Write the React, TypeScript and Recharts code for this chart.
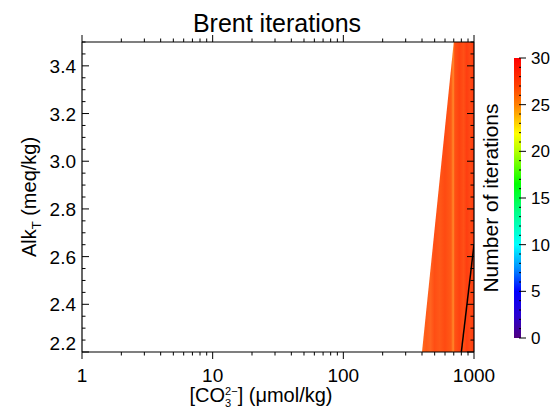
import React from 'react';
import { ComposedChart, Area, Line, XAxis, YAxis, BarChart, Bar } from 'recharts';

const FONT = '"Liberation Sans", Arial, Helvetica, sans-serif';

// axis ticks
const xTicks = [1, 2, 3, 4, 5, 6, 7, 8, 9, 10, 20, 30, 40, 50, 60, 70, 80, 90, 100, 200, 300, 400, 500, 600, 700, 800, 900, 1000];
const xMajor = [1, 10, 100, 1000];
const yTicks = [2.2, 2.25, 2.3, 2.35, 2.4, 2.45, 2.5, 2.55, 2.6, 2.65, 2.7, 2.75, 2.8, 2.85, 2.9, 2.95, 3.0, 3.05, 3.1, 3.15, 3.2, 3.25, 3.3, 3.35, 3.4, 3.45, 3.5];
const yMajor = [2.2, 2.4, 2.6, 2.8, 3.0, 3.2, 3.4];
const cbarTicks = [0, 1, 2, 3, 4, 5, 6, 7, 8, 9, 10, 11, 12, 13, 14, 15, 16, 17, 18, 19, 20, 21, 22, 23, 24, 25, 26, 27, 28, 29, 30];
const cbarMajor = [0, 5, 10, 15, 20, 25, 30];

// edge of the shaded (converged) region: [CO3] vs Alk
const regionCO3 = [400, 700, 1000];
const regionAlk = [2.2, 3.5, 3.5];
// black contour line
const lineCO3 = [800, 1000];
const lineAlk = [2.2, 2.65];
// colour bar range
const maxIter = [30];

const regionData = regionCO3.map((x, i) => ({ co3: x, alk: regionAlk[i] }));
const lineData = lineCO3.map((x, i) => ({ co3: x, alk: lineAlk[i] }));
const cbarData = maxIter.map((v) => ({ name: 'iter', v }));

const stripes: [number, string][] = [
  [0, '#ff6a1c'], [0.08, '#ff5a18'], [0.16, '#ff6420'], [0.24, '#ff4e14'],
  [0.34, '#ff5818'], [0.44, '#ff4a12'], [0.56, '#ff5a16'], [0.6, '#ff8a2a'],
  [0.63, '#ff5214'], [0.72, '#ff4210'], [0.8, '#ff5016'], [0.86, '#ff3e10'],
  [0.93, '#ff4a14'], [1, '#ff3a10'],
];

const rainbow: [number, string][] = [
  [0, '#ff0000'], [0.1, '#ff4000'], [0.167, '#ff8000'], [0.27, '#ffff00'],
  [0.333, '#b4ff00'], [0.45, '#00ff00'], [0.55, '#00ff88'], [0.667, '#00ffff'],
  [0.75, '#0090ff'], [0.833, '#0000ff'], [0.92, '#2a00d0'], [1, '#500080'],
];

const XTickBottom = (props: any) => {
  const { x, y, payload } = props;
  const major = xMajor.includes(payload.value);
  return (
    <g>
      <line x1={x} x2={x} y1={y} y2={y + (major ? 7 : 3.5)} stroke="#000" />
      {major && (
        <text x={x} y={y + 30} textAnchor="middle" fontSize={19} fill="#000" fontFamily={FONT}>
          {payload.value}
        </text>
      )}
    </g>
  );
};

const XTickTop = (props: any) => {
  const { x, y, payload } = props;
  const major = xMajor.includes(payload.value);
  return <line x1={x} x2={x} y1={y} y2={y - (major ? 7 : 3.5)} stroke="#000" />;
};

const YTickLeft = (props: any) => {
  const { x, y, payload } = props;
  const major = yMajor.includes(payload.value);
  const shift = payload.value === yTicks[0] ? -9 : 0;
  return (
    <g>
      <line x1={x} x2={x + (major ? 7 : 3.5)} y1={y} y2={y} stroke="#000" />
      {major && (
        <text x={x - 6} y={y + 7 + shift} textAnchor="end" fontSize={19} fill="#000" fontFamily={FONT}>
          {payload.value.toFixed(1)}
        </text>
      )}
    </g>
  );
};

const YTickRight = (props: any) => {
  const { x, y, payload } = props;
  const major = yMajor.includes(payload.value);
  return <line x1={x} x2={x - (major ? 7 : 3.5)} y1={y} y2={y} stroke="#000" />;
};

const CbarTick = (props: any) => {
  const { x, y, payload } = props;
  const major = cbarMajor.includes(payload.value);
  return (
    <g>
      <line x1={x - 2} x2={x + (major ? 5 : 0)} y1={y} y2={y} stroke="#000" />
      {major && (
        <text x={x + 10} y={y + 6} textAnchor="start" fontSize={17} fill="#000" fontFamily={FONT}>
          {payload.value}
        </text>
      )}
    </g>
  );
};

const App: React.FC = () => {
  return (
    <div style={{ position: 'absolute', left: 0, top: 0, width: 552, height: 411, background: '#fff', fontFamily: FONT }}>
      <div style={{ position: 'absolute', left: 0, top: 0 }}>
        <ComposedChart width={552} height={411} margin={{ top: 32, right: 68, bottom: 29, left: 42 }}>
          <defs>
            <linearGradient id="stripes" x1="0" y1="0" x2="1" y2="0">
              {stripes.map(([o, c]) => (
                <stop key={o} offset={o} stopColor={c} />
              ))}
            </linearGradient>
          </defs>
          <XAxis
            xAxisId="b"
            dataKey="co3"
            type="number"
            scale="log"
            domain={[1, 1000]}
            ticks={xTicks}
            interval={0}
            height={30}
            tickSize={0}
            tickMargin={0}
            tickLine={false}
            allowDataOverflow
            axisLine={{ stroke: '#000', strokeWidth: 1.2 }}
            tick={XTickBottom}
            label={{
              content: (p: any) => {
                const vb = p.viewBox;
                return (
                  <text x={vb.x + vb.width / 2 - 17} y={vb.y + 50} textAnchor="middle" fontSize={20} fill="#000" fontFamily={FONT}>
                    [CO
                    <tspan dy={-7} fontSize={11}>2−</tspan>
                    <tspan dx={-12.5} dy={12} fontSize={11}>3</tspan>
                    <tspan dx={6.4} dy={-5} fontSize={20}>] (μmol/kg)</tspan>
                  </text>
                );
              },
            }}
          />
          <XAxis
            xAxisId="t"
            orientation="top"
            dataKey="co3"
            type="number"
            scale="log"
            domain={[1, 1000]}
            ticks={xTicks}
            interval={0}
            height={10}
            tickSize={0}
            tickMargin={0}
            tickLine={false}
            allowDataOverflow
            axisLine={{ stroke: '#000', strokeWidth: 1.2 }}
            tick={XTickTop}
            label={{
              content: (p: any) => {
                const vb = p.viewBox;
                return (
                  <text x={vb.x + vb.width / 2 - 1} y={vb.y + vb.height - 10} textAnchor="middle" fontSize={25} fill="#000" fontFamily={FONT}>
                    Brent iterations
                  </text>
                );
              },
            }}
          />
          <YAxis
            yAxisId="l"
            type="number"
            domain={[2.2, 3.5]}
            ticks={yTicks}
            interval={0}
            width={40}
            tickSize={0}
            tickMargin={0}
            tickLine={false}
            allowDataOverflow
            axisLine={{ stroke: '#000', strokeWidth: 1.2 }}
            tick={YTickLeft}
            label={{
              content: (p: any) => {
                const vb = p.viewBox;
                const cy = vb.y + vb.height / 2;
                return (
                  <text transform={`translate(${vb.x + vb.width - 46}, ${cy}) rotate(-90)`} x={0} y={0} textAnchor="middle" fontSize={20} fill="#000" fontFamily={FONT}>
                    Alk
                    <tspan dy={5} fontSize={13}>T</tspan>
                    <tspan dy={-5} fontSize={20}> (meq/kg)</tspan>
                  </text>
                );
              },
            }}
          />
          <YAxis
            yAxisId="r"
            orientation="right"
            type="number"
            domain={[2.2, 3.5]}
            ticks={yTicks}
            interval={0}
            width={10}
            tickSize={0}
            tickMargin={0}
            tickLine={false}
            allowDataOverflow
            axisLine={{ stroke: '#000', strokeWidth: 1.2 }}
            tick={YTickRight}
          />
          <Area
            xAxisId="b"
            yAxisId="l"
            data={regionData}
            dataKey="alk"
            type="linear"
            baseValue={2.2}
            stroke="none"
            fill="url(#stripes)"
            fillOpacity={1}
            isAnimationActive={false}
          />
          <Line
            xAxisId="b"
            yAxisId="l"
            data={lineData}
            dataKey="alk"
            type="linear"
            stroke="#000"
            strokeWidth={1.5}
            dot={false}
            isAnimationActive={false}
          />
        </ComposedChart>
      </div>
      <div style={{ position: 'absolute', left: 470, top: 0 }}>
        <BarChart width={82} height={411} data={cbarData} margin={{ top: 58, right: 1, bottom: 73, left: 44 }} barCategoryGap={0}>
          <defs>
            <linearGradient id="rainbow" x1="0" y1="0" x2="0" y2="1">
              {rainbow.map(([o, c]) => (
                <stop key={o} offset={o} stopColor={c} />
              ))}
            </linearGradient>
          </defs>
          <XAxis dataKey="name" hide />
          <YAxis
            orientation="right"
            type="number"
            domain={[0, 30]}
            ticks={cbarTicks}
            interval={0}
            width={30}
            tickSize={0}
            tickMargin={0}
            tickLine={false}
            axisLine={false}
            tick={CbarTick}
            label={{
              content: (p: any) => {
                const vb = p.viewBox;
                const cy = vb.y + vb.height / 2;
                return (
                  <text transform={`translate(${vb.x - 23}, ${cy}) rotate(-90)`} x={0} y={0} textAnchor="middle" fontSize={21} fill="#000" fontFamily={FONT}>
                    Number of iterations
                  </text>
                );
              },
            }}
          />
          <Bar dataKey="v" fill="url(#rainbow)" isAnimationActive={false} />
        </BarChart>
      </div>
    </div>
  );
};

export default App;
